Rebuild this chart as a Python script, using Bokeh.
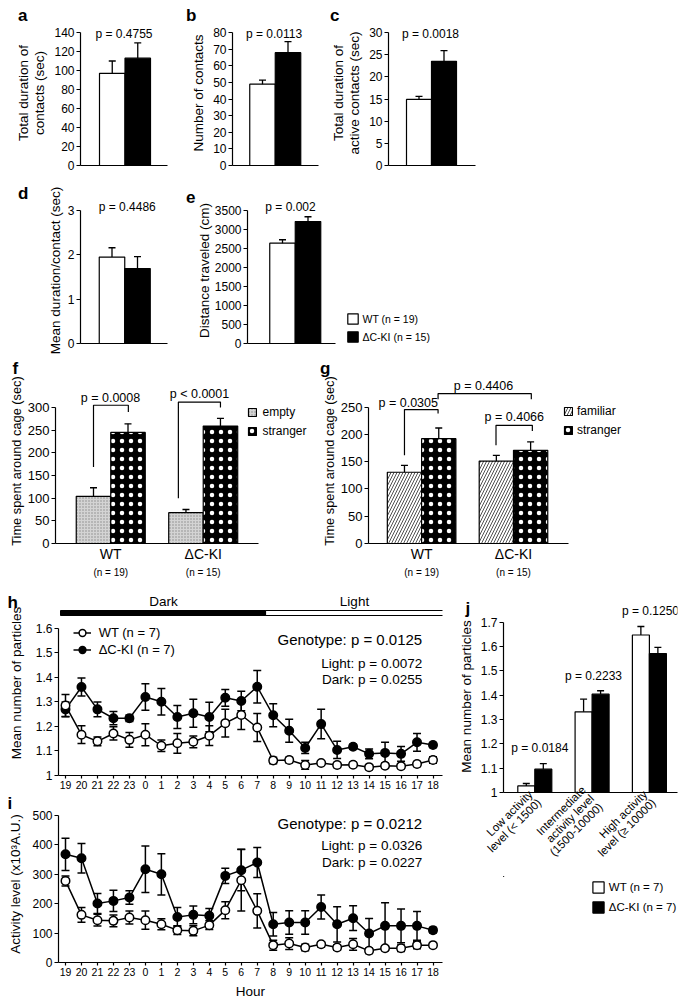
import math
from bokeh.plotting import figure
from bokeh.models import (Range1d, FixedTicker, Label, Legend, LegendItem, Spacer, Title,
                          LinearAxis)
from bokeh.layouts import row, column
from bokeh.embed import file_html
from bokeh.resources import INLINE

FONT = "Liberation Sans"

# ---------------- data ----------------
genotypes = ["WT", "ΔC-KI"]
n_labels = ["(n = 19)", "(n = 15)"]
legend_ae = ["WT (n = 19)", "ΔC-KI (n = 15)"]

a_mean = [97, 113]
a_sem = [13, 16]
a_ticks = [0, 20, 40, 60, 80, 100, 120, 140]
a_p = "p = 0.4755"

b_mean = [49, 68]
b_sem = [2.5, 6.7]
b_ticks = [0, 10, 20, 30, 40, 50, 60, 70, 80]
b_p = "p = 0.0113"

c_mean = [14.9, 23.5]
c_sem = [0.7, 2.4]
c_ticks = [0, 5, 10, 15, 20, 25, 30]
c_p = "p = 0.0018"

d_mean = [1.95, 1.69]
d_sem = [0.21, 0.27]
d_ticks = [0, 1, 2, 3]
d_p = "p = 0.4486"

e_mean = [2640, 3210]
e_sem = [90, 125]
e_ticks = [0, 500, 1000, 1500, 2000, 2500, 3000, 3500]
e_p = "p = 0.002"

f_empty = [104, 68]
f_empty_sem = [19, 7]
f_stranger = [245, 259]
f_stranger_sem = [19, 17]
f_ticks = [0, 50, 100, 150, 200, 250, 300]
f_p = ["p = 0.0008", "p < 0.0001"]

g_familiar = [130.5, 151]
g_familiar_sem = [12.5, 10.5]
g_stranger = [192, 170.7]
g_stranger_sem = [19.5, 15.3]
g_ticks = [0, 50, 100, 150, 200, 250]
g_p = ["p = 0.0305", "p = 0.4066", "p = 0.4406"]

hours = [19, 20, 21, 22, 23, 0, 1, 2, 3, 4, 5, 6, 7, 8, 9, 10, 11, 12, 13, 14, 15, 16, 17, 18]
h_wt = [1.285, 1.166, 1.139, 1.171, 1.145, 1.166, 1.121, 1.131, 1.137, 1.162, 1.213, 1.246,
        1.195, 1.061, 1.063, 1.043, 1.051, 1.043, 1.044, 1.034, 1.040, 1.038, 1.047, 1.063]
h_wt_sem = [0.045, 0.036, 0.018, 0.027, 0.03, 0.045, 0.023, 0.04, 0.024, 0.04, 0.056, 0.059,
            0.057, 0.013, 0.011, 0.018, 0.005, 0.01, 0.01, 0.01, 0.01, 0.01, 0.01, 0.013]
h_ki = [1.269, 1.36, 1.269, 1.233, 1.233, 1.319, 1.30, 1.238, 1.253, 1.238, 1.316, 1.303,
        1.361, 1.245, 1.182, 1.112, 1.209, 1.104, 1.117, 1.088, 1.092, 1.088, 1.135, 1.124]
h_ki_sem = [0.03, 0.037, 0.03, 0.027, 0.013, 0.054, 0.054, 0.047, 0.057, 0.06, 0.034, 0.04,
            0.066, 0.047, 0.047, 0.023, 0.06, 0.035, 0.01, 0.02, 0.043, 0.03, 0.036, 0.01]
h_ticks = [1, 1.1, 1.2, 1.3, 1.4, 1.5, 1.6]
h_stats = ["Genotype: p = 0.0125", "Light: p = 0.0072", "Dark: p = 0.0255"]

i_wt = [277.6, 162, 144, 141.6, 153, 144, 130, 110, 107.6, 127, 178, 280,
        175.6, 59, 64.6, 51, 62, 51, 62, 39.7, 48.7, 48.7, 59, 59]
i_wt_sem = [17, 25, 20, 20, 22, 31, 19, 15, 17, 15, 29, 105, 58, 17, 20, 11, 9, 9, 20, 9, 8, 11, 12, 7]
i_ki = [368, 354.7, 200.6, 209.6, 221, 317.3, 300, 155, 162, 158.6, 294.6, 314,
        340, 130.3, 136, 136, 189, 130, 150.7, 98.6, 124.6, 124.6, 124.6, 110]
i_ki_sem = [55, 50, 34, 36, 23, 79, 70, 32, 30, 25, 26, 70, 51, 40, 40, 40, 41, 60, 42, 51, 79, 57, 49, 9]
i_ticks = [0, 100, 200, 300, 400, 500]
i_stats = ["Genotype: p = 0.0212", "Light: p = 0.0326", "Dark: p = 0.0227"]
phase_labels = ["Dark", "Light"]
legend_h = ["WT (n = 7)", "ΔC-KI (n = 7)"]

j_levels = ["Low activity\nlevel (< 1500)", "Intermediate\nactivity level\n(1500-10000)",
            "High activity\nlevel (≥ 10000)"]
j_wt = [1.027, 1.3315, 1.647]
j_wt_sem = [0.01, 0.052, 0.035]
j_ki = [1.096, 1.404, 1.571]
j_ki_sem = [0.023, 0.014, 0.025]
j_ticks = [1, 1.1, 1.2, 1.3, 1.4, 1.5, 1.6, 1.7]
j_p = ["p = 0.0184", "p = 0.2233", "p = 0.1250"]


# ---------------- helpers ----------------
class Panel:
    """A figure occupying box (px) whose plotting frame sits at the given px edges."""

    def __init__(self, box, frame, xmap=(0, 0, 1, 1), ymap=(0, 0, 1, 1), axes=True):
        fx, fy, fw, fh = box
        l, t, r, b = frame
        self.px0, self.v0, px1, v1 = xmap
        self.sx = (v1 - self.v0) / (px1 - self.px0)
        self.qy0, self.w0, qy1, w1 = ymap
        self.sy = (w1 - self.w0) / (qy1 - self.qy0)
        kw = {}
        if not axes:
            kw = dict(x_axis_location=None, y_axis_location=None)
        self.p = figure(width=fw, height=fh,
                        x_range=Range1d(self.X(l), self.X(r)),
                        y_range=Range1d(self.Y(b), self.Y(t)),
                        min_border_left=l - fx, min_border_right=fx + fw - r,
                        min_border_top=t - fy, min_border_bottom=fy + fh - b,
                        output_backend="svg", toolbar_location=None, title=None, **kw)
        self.p.outline_line_color = None
        self.p.grid.visible = False
        self.p.background_fill_color = "white"
        self.p.border_fill_color = "white"
        self.frame_left, self.frame_top = l, t

    def X(self, px):
        return self.v0 + (px - self.px0) * self.sx

    def Y(self, py):
        return self.w0 + (py - self.qy0) * self.sy

    def PX(self, v):
        return self.px0 + (v - self.v0) / self.sx

    def text(self, px, py, s, size, align="center", baseline="middle"):
        self.p.add_layout(Label(x=self.X(px), y=self.Y(py), text=s, text_font=FONT,
                                text_font_size=f"{size}px", text_align=align,
                                text_baseline=baseline, text_color="black"))

    def letter(self, left_px, baseline_px, s, max_standoff=None):
        # panel letter as a left-aligned title sitting on the frame's top edge
        sy = baseline_px + 3.6
        standoff = int(round(2 * (self.frame_top - sy)))
        if max_standoff is not None:
            standoff = min(standoff, max_standoff)
        self.p.add_layout(Title(text=s, align="left", vertical_align="bottom",
                                offset=left_px - self.frame_left, standoff=standoff,
                                text_font=FONT, text_font_size="17px", text_font_style="bold",
                                text_color="black"), "above")

    def ylabel(self, s, standoff, size=13.5):
        ay = self.p.yaxis[0]
        ay.axis_label = s
        ay.axis_label_standoff = standoff
        ay.axis_label_text_font = FONT
        ay.axis_label_text_font_size = f"{size}px"
        ay.axis_label_text_font_style = "normal"
        ay.axis_label_text_color = "black"
        ay.axis_label_text_line_height = 1.1


def style_axis(ax, font_px, tick_out=4, standoff=2):
    ax.axis_line_color = "black"
    ax.axis_line_width = 1.2
    ax.major_tick_line_color = "black"
    ax.major_tick_line_width = 1.2
    ax.major_tick_in = 0
    ax.major_tick_out = tick_out
    ax.minor_tick_line_color = None
    ax.major_label_text_color = "black"
    ax.major_label_text_font = FONT
    ax.major_label_text_font_size = f"{font_px}px"
    ax.major_label_standoff = standoff


def set_yaxis(P, yticks, yfont):
    ay = P.p.yaxis[0]
    style_axis(ay, yfont)
    ay.ticker = FixedTicker(ticks=yticks)
    ay.major_label_overrides = {t: f"{t:g}" for t in yticks}
    ay.bounds = (yticks[0], yticks[-1])


def plain_xaxis(P, bounds_px=None):
    ax = P.p.xaxis[0]
    style_axis(ax, 10, tick_out=0)
    ax.ticker = FixedTicker(ticks=[])
    if bounds_px is not None:
        ax.bounds = (P.X(bounds_px[0]), P.X(bounds_px[1]))
    return ax


def err_up(p, xs, mean, sem, cap=7, lw=1.3):
    tops = [m + s for m, s in zip(mean, sem)]
    p.segment(x0=xs, y0=mean, x1=xs, y1=tops, line_color="black", line_width=lw)
    p.scatter(x=xs, y=tops, marker="dash", size=cap, line_color="black", line_width=lw)


def err_both(p, xs, mean, sem, cap=8, lw=1.5):
    lo = [m - s for m, s in zip(mean, sem)]
    hi = [m + s for m, s in zip(mean, sem)]
    p.segment(x0=xs, y0=lo, x1=xs, y1=hi, line_color="black", line_width=lw)
    p.scatter(x=xs + xs, y=lo + hi, marker="dash", size=cap, line_color="black", line_width=lw)


def simple_bar_panel(P, mean, sem, ticks, p_text, p_pos):
    xs = [0, 1]
    r = P.p.vbar(x=xs, top=mean, bottom=0, width=1.0, fill_color=["white", "black"],
                 line_color="black", line_width=1.2)
    err_up(P.p, xs, mean, sem)
    set_yaxis(P, ticks, 12)
    P.text(p_pos[0], p_pos[1], p_text, 12)
    return r


def make_legend(items, loc, glyph, spacing, standoff, font):
    return Legend(items=items, location=loc, glyph_width=glyph, glyph_height=glyph,
                  label_height=glyph, spacing=spacing, padding=0, margin=0,
                  label_standoff=standoff, label_text_font=FONT,
                  label_text_font_size=f"{font}px", label_text_color="black",
                  border_line_color=None, background_fill_alpha=0)


# ---------------- row 1: a, b, c ----------------
A = Panel((0, 0, 183, 185), (80, 20, 167, 165), (111.75, 0, 137.25, 1), (165, 0, 32, 140))
simple_bar_panel(A, a_mean, a_sem, a_ticks, a_p, (123.5, 33))
plain_xaxis(A)
A.letter(17.5, 20.5, "a")
A.ylabel("Total duration of\ncontacts (sec)", 4)

B = Panel((183, 0, 142, 185), (232, 20, 318, 165), (262, 0, 287.5, 1), (165, 0, 32.3, 80))
simple_bar_panel(B, b_mean, b_sem, b_ticks, b_p, (273.5, 33))
plain_xaxis(B)
B.letter(185.5, 20.5, "b")
B.ylabel("Number of contacts", 4)

C = Panel((325, 0, 165, 185), (388, 20, 475, 165), (418.5, 0, 443.5, 1), (165, 0, 32, 30))
simple_bar_panel(C, c_mean, c_sem, c_ticks, c_p, (430, 33))
plain_xaxis(C)
C.letter(329.5, 20.5, "c")
C.ylabel("Total duration of\nactive contacts (sec)", 4)

# ---------------- row 2: d, e (+legend) ----------------
D = Panel((0, 185, 183, 170), (80, 197, 167, 343), (111.5, 0, 137, 1), (343, 0, 210, 3))
simple_bar_panel(D, d_mean, d_sem, d_ticks, d_p, (126.7, 206))
plain_xaxis(D)
D.letter(17.5, 199, "d")
D.ylabel("Mean duration/contact (sec)", 2)

E = Panel((183, 185, 277, 170), (247, 197, 440, 343), (282, 0, 307.5, 1), (343, 0, 210, 3500))
re = simple_bar_panel(E, e_mean, e_sem, e_ticks, e_p, (290, 206))
plain_xaxis(E, (247, 335))
E.letter(185.5, 199, "e")
E.ylabel("Distance traveled (cm)", 0)
E.p.add_layout(make_legend([LegendItem(label=legend_ae[0], renderers=[re], index=0),
                            LegendItem(label=legend_ae[1], renderers=[re], index=1)],
                           (98.5, 0), 13, 5, 4, 10.5))

# ---------------- row 3: f, g ----------------
stranger_style = dict(fill_color="black", hatch_pattern="dot", hatch_color="white",
                      hatch_scale=9)


def group_bar_panel(P, first, first_sem, second, second_sem, style_first, gpos):
    x1 = gpos
    x2 = [g + 1 for g in gpos]
    r1 = P.p.vbar(x=x1, top=first, bottom=0, width=1.0, line_color="black", line_width=1.2,
                  **style_first)
    r2 = P.p.vbar(x=x2, top=second, bottom=0, width=1.0, line_color="black", line_width=1.2,
                  **stranger_style)
    err_up(P.p, x1, first, first_sem)
    err_up(P.p, x2, second, second_sem)
    return r1, r2


def category_axes(P, gpos, axis_px):
    centers = [g + 0.5 for g in gpos]
    ax = plain_xaxis(P, axis_px)
    ax.ticker = FixedTicker(ticks=centers)
    ax.major_label_overrides = {c: s for c, s in zip(centers, genotypes)}
    ax.major_label_text_font_size = "14px"
    ax.major_label_standoff = 2
    ax2 = LinearAxis(ticker=FixedTicker(ticks=centers),
                     major_label_overrides={c: s for c, s in zip(centers, n_labels)})
    style_axis(ax2, 10, tick_out=0, standoff=2)
    ax2.axis_line_color = None
    ax2.major_tick_line_color = None
    P.p.add_layout(ax2, "below")


def bracket(P, xl, xr, yl, ytop, yr):
    P.p.line(x=[xl, xl, xr, xr], y=[yl, ytop, ytop, yr], line_color="black", line_width=1.2)


group_pos = [0, 2.68]

F = Panel((0, 355, 318, 225), (55, 378, 315, 543), (93, 0, 127.5, 1), (543, 0, 407, 300))
rf1, rf2 = group_bar_panel(F, f_empty, f_empty_sem, f_stranger, f_stranger_sem,
                           dict(fill_color="#d4d4d4", hatch_pattern="dot", hatch_color="#8a8a8a",
                                hatch_scale=3, hatch_weight=0.7), group_pos)
set_yaxis(F, f_ticks, 13)
category_axes(F, group_pos, (55, 258))
F.letter(12, 373, "f", max_standoff=1)
F.ylabel("Time spent around cage (sec)", 1, 12.8)
bracket(F, 0, 1.01, 169, 305, 290)
bracket(F, 2.46, 3.68, 100, 312, 300)
F.text(110, 397, f_p[0], 12.5)
F.text(199, 393, f_p[1], 12.5)
F.p.add_layout(make_legend([LegendItem(label="empty", renderers=[rf1]),
                            LegendItem(label="stranger", renderers=[rf2])],
                           (191.5, 105.3), 10, 5, 6, 12))

G = Panel((318, 355, 367, 225), (366, 378, 682, 543), (402.2, 0, 436.7, 1), (543, 0, 406.5, 250))
rg1, rg2 = group_bar_panel(G, g_familiar, g_familiar_sem, g_stranger, g_stranger_sem,
                           dict(fill_color="white", hatch_pattern="right_diagonal_line",
                                hatch_color="#505050", hatch_scale=6, hatch_weight=1), group_pos)
set_yaxis(G, g_ticks, 13)
category_axes(G, group_pos, (366, 567))
G.letter(317.5, 372, "g", max_standoff=1)
G.ylabel("Time spent around cage (sec)", 1, 12.8)
bracket(G, 0, 0.98, 161.6, 245.2, 237.9)
bracket(G, 0.98, 3.70, 264, 274.5, 264)
bracket(G, 2.67, 3.73, 180, 216.5, 206)
G.text(406, 402, g_p[0], 12.5)
G.text(512.7, 416.7, g_p[1], 12.5)
G.text(481.7, 385.7, g_p[2], 12.5)
G.p.add_layout(make_legend([LegendItem(label="familiar", renderers=[rg1]),
                            LegendItem(label="stranger", renderers=[rg2])],
                           (195, 105.7), 10, 5, 4, 12))

# ---------------- row 4: h, i, j ----------------
xs_h = list(range(len(hours)))


def time_panel(P, wt, wt_sem, ki, ki_sem):
    err_both(P.p, xs_h, ki, ki_sem)
    err_both(P.p, xs_h, wt, wt_sem)
    lk = P.p.line(x=xs_h, y=ki, line_color="black", line_width=1.5)
    lw = P.p.line(x=xs_h, y=wt, line_color="black", line_width=1.5)
    sk = P.p.scatter(x=xs_h, y=ki, marker="circle", size=8.5, fill_color="black",
                     line_color="black", line_width=1.5)
    sw = P.p.scatter(x=xs_h, y=wt, marker="circle", size=8.5, fill_color="white",
                     line_color="black", line_width=1.5)
    ax = P.p.xaxis[0]
    style_axis(ax, 10.5, tick_out=3, standoff=2)
    ax.ticker = FixedTicker(ticks=xs_h)
    ax.major_label_overrides = {i: str(h) for i, h in enumerate(hours)}
    return (lw, sw), (lk, sk)


HXMAP = (65, 0, 432.5, 23)
H = Panel((0, 580, 455, 213), (58, 590, 442, 775), HXMAP, (775, 1, 627.5, 1.6))
(wl, ws), (kl, ks) = time_panel(H, h_wt, h_wt_sem, h_ki, h_ki_sem)
set_yaxis(H, h_ticks, 12)
H.letter(7, 608, "h")
H.ylabel("Mean number of particles", 9)
# Dark / Light phase bar over the hour axis
H.p.quad(left=[H.X(60)], right=[H.X(265)], bottom=[H.Y(615)], top=[H.Y(610)],
         fill_color="black", line_color="black", line_width=1)
H.p.quad(left=[H.X(265)], right=[H.X(445)], bottom=[H.Y(615)], top=[H.Y(610)],
         fill_color="white", line_color="black", line_width=1.2)
H.text(163, 600.7, phase_labels[0], 13.5)
H.text(354, 600.7, phase_labels[1], 13.5)
H.text(421.7, 639.3, h_stats[0], 15, align="right")
H.text(421.7, 663.3, h_stats[1], 13.5, align="right")
H.text(421.7, 679, h_stats[2], 13.5, align="right")
H.p.add_layout(Legend(items=[LegendItem(label=legend_h[0], renderers=[wl, ws]),
                             LegendItem(label=legend_h[1], renderers=[kl, ks])],
                      location=(14.7, 117), glyph_width=18, glyph_height=17, label_height=17,
                      spacing=0, padding=0, margin=0, label_standoff=8,
                      label_text_font=FONT, label_text_font_size="13px", label_text_color="black",
                      border_line_color=None, background_fill_alpha=0))

I = Panel((0, 793, 455, 211), (58, 805, 442, 962), HXMAP, (962, 0, 815, 500))
time_panel(I, i_wt, i_wt_sem, i_ki, i_ki_sem)
set_yaxis(I, i_ticks, 12)
I.letter(7, 809, "i")
I.ylabel("Activity level (x10³A.U.)", 6)
I.text(421.7, 823.3, i_stats[0], 15, align="right")
I.text(421.7, 845, i_stats[1], 13.5, align="right")
I.text(421.7, 861.7, i_stats[2], 13.5, align="right")
axi = I.p.xaxis[0]
axi.axis_label = "Hour"
axi.axis_label_standoff = 5
axi.axis_label_text_font = FONT
axi.axis_label_text_font_size = "13.5px"
axi.axis_label_text_font_style = "normal"
axi.axis_label_text_color = "black"

J = Panel((455, 580, 230, 296), (503, 600, 677, 792), (525.8, 0, 542.8, 1), (792, 1, 670.3, 1.5))
j_pos = [0, 3.37, 6.74]
j_pos_ki = [x + 1 for x in j_pos]
J.p.vbar(x=j_pos, top=j_wt, bottom=1, width=1.0, fill_color="white", line_color="black",
         line_width=1.2)
J.p.vbar(x=j_pos_ki, top=j_ki, bottom=1, width=1.0, fill_color="black", line_color="black",
         line_width=1.2)
err_up(J.p, j_pos, j_wt, j_wt_sem)
err_up(J.p, j_pos_ki, j_ki, j_ki_sem)
set_yaxis(J, j_ticks, 12)
j_centers = [g + 0.5 for g in j_pos]
axj = J.p.xaxis[0]
style_axis(axj, 11.5, tick_out=0, standoff=4)
axj.ticker = FixedTicker(ticks=j_centers)
axj.major_label_overrides = {c: s for c, s in zip(j_centers, j_levels)}
axj.major_label_orientation = math.pi / 4
axj.major_label_text_line_height = 1.0
J.letter(465, 614, "j")
J.ylabel("Mean number of particles", 4)
J.text(539.3, 747.3, j_p[0], 12)
J.text(593, 675.5, j_p[1], 12)
J.text(650, 610, j_p[2], 12)

# legend for j: bars of the same series, lying outside this strip's visible range
LJ = Panel((455, 876, 230, 128), (503, 876, 677, 1004), axes=False)
rjw = LJ.p.vbar(x=j_pos, top=j_wt, bottom=1, width=1, fill_color="white", line_color="black",
                line_width=1.2)
rjk = LJ.p.vbar(x=j_pos_ki, top=j_ki, bottom=1, width=1, fill_color="black", line_color="black",
                line_width=1.2)
LJ.p.add_layout(make_legend([LegendItem(label=legend_h[0], renderers=[rjw]),
                             LegendItem(label=legend_h[1], renderers=[rjk])],
                            (87.8, 90.3), 14, 6, 4, 11.5))

# ---------------- layout ----------------
row1 = row(A.p, B.p, C.p, Spacer(width=195, height=185))
row2 = row(D.p, E.p, Spacer(width=225, height=170))
row3 = row(F.p, G.p)
left = column(H.p, I.p)
right = column(J.p, LJ.p)
row4 = row(left, right)
root = column(row1, row2, row3, row4)

open("out.html", "w").write(file_html(root, INLINE))
